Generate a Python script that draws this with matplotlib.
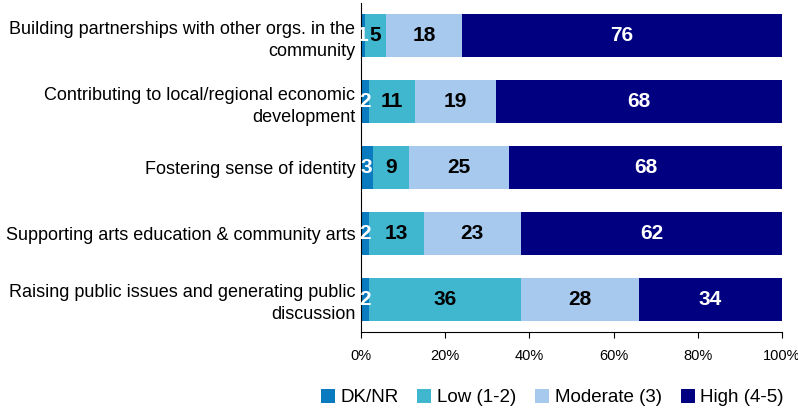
import matplotlib.pyplot as plt
import numpy as np

plt.rcParams['font.family'] = ['Liberation Sans', 'DejaVu Sans']

categories = ["Building partnerships with other orgs. in the\ncommunity",
              "Contributing to local/regional economic\ndevelopment",
              "Fostering sense of identity",
              "Supporting arts education & community arts",
              "Raising public issues and generating public\ndiscussion"]
series = ["DK/NR", "Low (1-2)", "Moderate (3)", "High (4-5)"]
dk_nr = [1, 2, 3, 2, 2]
low = [5, 11, 9, 13, 36]
moderate = [18, 19, 25, 23, 28]
high = [76, 68, 68, 62, 34]

colors = ["#0b7bc0", "#40b7cf", "#a8c9ee", "#000080"]
text_colors = ["white", "black", "black", "white"]

vals = np.array([dk_nr, low, moderate, high], dtype=float)
shares = vals / vals.sum(axis=0) * 100

fig = plt.figure(figsize=(7.98, 4.12), dpi=100)
ax = fig.add_axes([0.452, 0.194, 0.528, 0.799])
y = np.arange(len(categories))
left = np.zeros(len(categories))
for i, name in enumerate(series):
    ax.barh(y, shares[i], left=left, height=0.65, color=colors[i], label=name)
    for j in range(len(categories)):
        ax.text(left[j] + shares[i][j] / 2, y[j], str(int(vals[i][j])), ha='center', va='center',
                color=text_colors[i], fontsize=15, fontweight='bold')
    left += shares[i]

ax.set_xlim(0, 100)
ax.set_ylim(4.5, -0.5)
ax.set_yticks(y)
ax.set_yticklabels(categories, fontsize=13, ha='right', multialignment='right', linespacing=1.4)
ax.tick_params(axis='y', length=0, pad=4)
ax.set_xticks([0, 20, 40, 60, 80, 100])
ax.set_xticklabels(["0%", "20%", "40%", "60%", "80%", "100%"], fontsize=10.5)
ax.tick_params(axis='x', direction='out', length=4, pad=8)
ax.spines['top'].set_visible(False)
ax.spines['right'].set_visible(False)

fig.legend(loc='center', bbox_to_anchor=(0.692, 0.035), ncol=4, frameon=False, fontsize=13.5,
           handlelength=0.75, handleheight=0.75, handletextpad=0.3, columnspacing=1.0)

fig.savefig("out.png", dpi=100)
